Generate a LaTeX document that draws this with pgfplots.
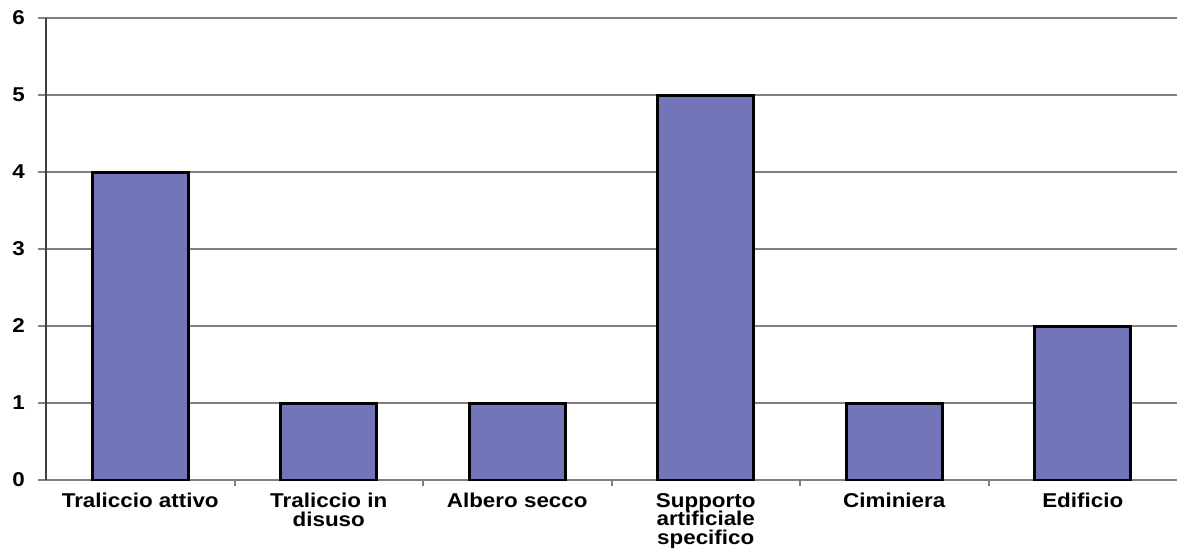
\documentclass[border=0pt]{standalone}
\usepackage{pgfplots}
\pgfplotsset{compat=1.18}
\usepackage{fontspec}
\setmainfont{Liberation Sans}[FakeStretch=1.12]
\definecolor{barfill}{RGB}{114,118,185}
\definecolor{gridc}{RGB}{128,128,128}
\begin{document}
\begin{tikzpicture}
\begin{axis}[
  scale only axis,
  width=565.5pt, height=231pt,
  xmin=-0.5, xmax=5.5, ymin=0, ymax=6,
  enlargelimits=false,
  axis x line*=bottom, axis y line*=left,
  axis line style={-, line width=1pt},
  x axis line style={draw=gridc},
  y axis line style={draw=black!75},
  ytick={0,1,2,3,4,5,6},
  ymajorgrids,
  major grid style={draw=gridc, line width=1pt},
  tick align=outside,
  major tick length=4pt,
  minor tick length=3pt,
  ytick style={draw=gridc, line width=1pt},
  xtick={0,1,2,3,4,5},
  xticklabels={Traliccio attivo, Traliccio in\\disuso, Albero secco, Supporto\\artificiale\\specifico, Ciminiera, Edificio},
  major x tick style={draw=none},
  minor xtick={0.5,1.5,2.5,3.5,4.5},
  minor x tick style={draw=gridc, line width=1pt},
  xticklabel style={align=center, font=\bfseries\fontsize{10}{9.4}\selectfont, anchor=north, yshift=1pt},
  yticklabel style={font=\bfseries\fontsize{10}{10}\selectfont, xshift=-3pt},
  /pgf/number format/assume math mode=true,
  ybar, bar width=48pt, bar shift=0pt,
]
\addplot[fill=barfill, draw=black, line width=1.5pt] coordinates {(0,4) (1,1) (2,1) (3,5) (4,1) (5,2)};
\end{axis}
\pgfresetboundingbox
\useasboundingbox (-23pt,-34pt) rectangle (565.5pt,240pt);
\end{tikzpicture}
\end{document}
